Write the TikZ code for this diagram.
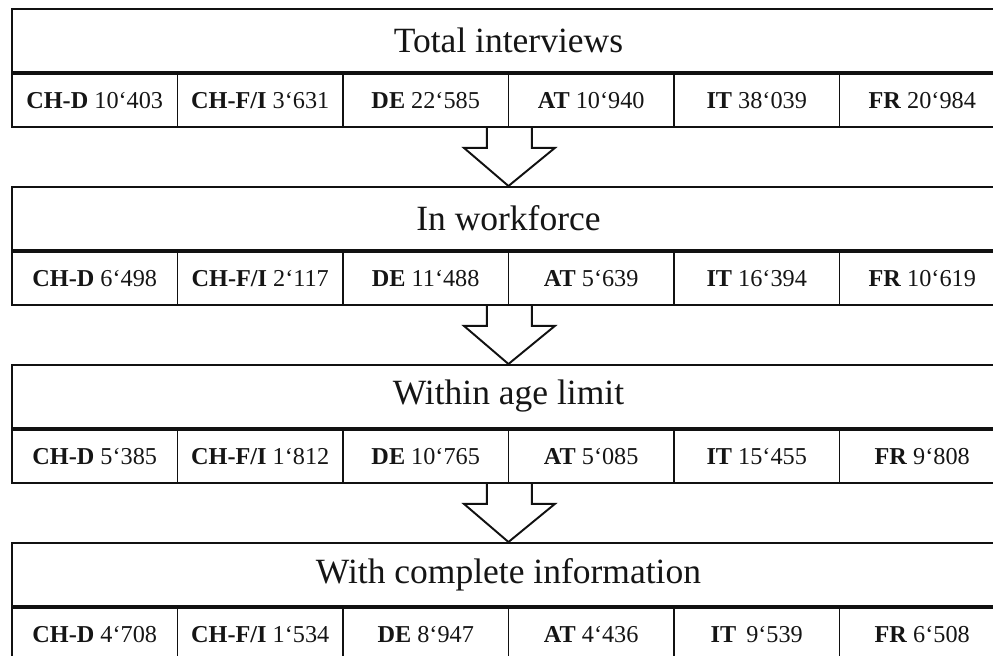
\documentclass[tikz,border=0pt]{standalone}
\usepackage{fontspec}
\setmainfont{Liberation Serif}
\usepackage{tikz}
\definecolor{FunnelLine}{HTML}{111111}
\definecolor{FunnelText}{HTML}{151515}

\tikzset{
  headbox/.style={draw=FunnelLine,line width=1.1pt,text=FunnelText,minimum width=19.86cm,minimum height=1.26cm,inner sep=0pt,anchor=north west,font=\fontsize{20.2}{22}\selectfont},
  cellbox/.style={draw=FunnelLine,line width=1.1pt,text=FunnelText,minimum width=3.31cm,minimum height=1.06cm,inner sep=0pt,anchor=north west,font=\fontsize{13.8}{15}\selectfont},
  funnel/.style={draw=FunnelLine,line width=1.1pt,line join=miter}
}

\begin{document}
\begin{tikzpicture}
      \useasboundingbox (0,0) rectangle (19.86,-13.1);
      % the four stages
      \node[headbox] (h1) at (0.22,-0.16) {Total interviews};
      \node[headbox] (h2) at (0.22,-3.72) {In workforce};
      \node[headbox] (h3) at (0.22,-7.28) {Within age limit};
      \node[headbox] (h4) at (0.22,-10.84) {With complete information};
      % counts per region
      \foreach \lab/\num [count=\k] in {CH-D/10‘403,{CH-F/I}/3‘631,DE/22‘585,AT/10‘940,IT/38‘039,FR/20‘984} {
        \node[cellbox,xshift=(\k-1)*3.31cm] (c1-\k) at (h1.south west) {\textbf{\lab} \num};
      }
      \foreach \lab/\num [count=\k] in {CH-D/6‘498,{CH-F/I}/2‘117,DE/11‘488,AT/5‘639,IT/16‘394,FR/10‘619} {
        \node[cellbox,xshift=(\k-1)*3.31cm] (c2-\k) at (h2.south west) {\textbf{\lab} \num};
      }
      \foreach \lab/\num [count=\k] in {CH-D/5‘385,{CH-F/I}/1‘812,DE/10‘765,AT/5‘085,IT/15‘455,FR/9‘808} {
        \node[cellbox,xshift=(\k-1)*3.31cm] (c3-\k) at (h3.south west) {\textbf{\lab} \num};
      }
      \foreach \lab/\num [count=\k] in {CH-D/4‘708,{CH-F/I}/1‘534,DE/8‘947,AT/4‘436,IT/\,9‘539,FR/6‘508} {
        \node[cellbox,xshift=(\k-1)*3.31cm] (c4-\k) at (h4.south west) {\textbf{\lab} \num};
      }
      % block arrows between stages
      \foreach \a/\b in {1/2,2/3,3/4} {
        \draw[funnel] ([xshift=-0.45cm]c\a-3.south east) -- ++(0,-0.4) -- ++(-0.46,0)
          -- (h\b.north) -- ([xshift=0.91cm,yshift=-0.4cm]c\a-3.south east)
          -- ++(-0.46,0) -- ([xshift=0.45cm]c\a-3.south east);
      }
    \end{tikzpicture}
\end{document}
